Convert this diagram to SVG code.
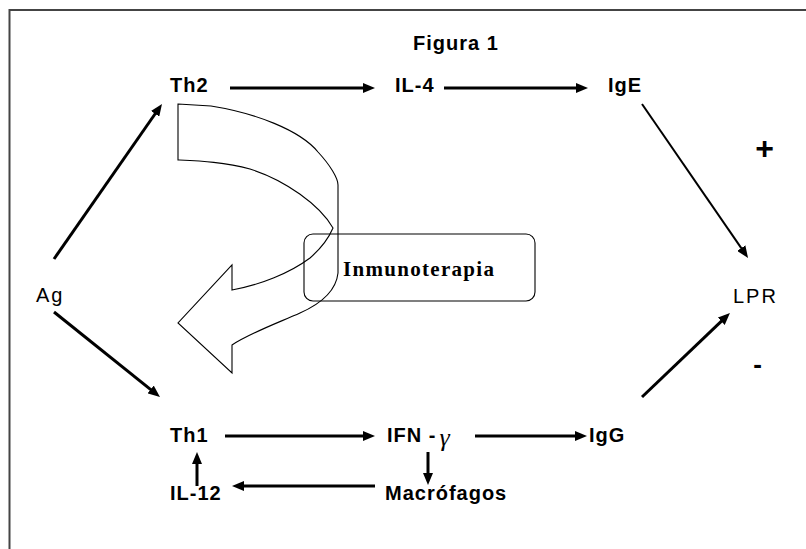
<svg xmlns="http://www.w3.org/2000/svg" width="806" height="549" viewBox="0 0 806 549">
<style>
.lbl{font-family:"Liberation Sans",Arial,sans-serif;font-weight:bold;font-size:20px;letter-spacing:1px;fill:#000}
.reg{font-family:"Liberation Sans",Arial,sans-serif;font-size:20px;letter-spacing:2px;fill:#000}
.imm{font-family:"Liberation Serif","Times New Roman",serif;font-weight:bold;font-size:21px;letter-spacing:1.3px;fill:#000}
.gam{font-family:"Liberation Serif","Times New Roman",serif;font-style:italic;font-weight:normal;font-size:26px;letter-spacing:0}
.big{font-size:32px}
.mid{font-size:26px}
.c{stroke:#000;stroke-width:3;fill:none;marker-end:url(#ah)}
.thin{stroke-width:2}
.outline{fill:none;stroke:#000;stroke-width:1.1}
</style>
<defs>
<marker id="ah" markerUnits="userSpaceOnUse" markerWidth="12" markerHeight="10" viewBox="0 0 12 10" refX="1" refY="5" orient="auto">
<path d="M0,0 L12,5 L0,10 z" fill="#000"/>
</marker>
</defs>
<rect width="806" height="549" fill="#fff"/>
<g id="frame" stroke="#444" stroke-width="2" fill="none">
<path d="M9.5,549 L9.5,10 L806,10"/>
</g>
<g id="title"><text class="lbl" x="413" y="50">Figura 1</text></g>
<g id="connectors">
<line class="c" x1="54" y1="259" x2="155.7" y2="113"/>
<line class="c" x1="230" y1="88" x2="364" y2="88"/>
<line class="c" x1="444" y1="88" x2="577" y2="88"/>
<line class="c thin" x1="642" y1="104" x2="741.8" y2="248.9"/>
<line class="c" x1="54" y1="312" x2="151.4" y2="390.1"/>
<line class="c" x1="225" y1="436" x2="364" y2="436"/>
<line class="c" x1="475" y1="436" x2="576" y2="436"/>
<line class="c" x1="642" y1="397" x2="722" y2="320.6"/>
<line class="c" x1="428" y1="452" x2="428" y2="474"/>
<line class="c" x1="375" y1="486" x2="243" y2="486"/>
<line class="c" x1="197" y1="486" x2="197" y2="463"/>
</g>
<g id="curved-arrow">
<path class="outline" d="M178,104 L211,106 C255,113 300,130 318,152 C330,165 338,178 338,185 L338,273 C336,292 318,305 300,313 C280,322 250,333 232,345 L232,373 L178,323 L232,265 L232,290 C260,285 290,273 310,258 C325,245 330,235 333,228 C320,205 285,180 250,169 C225,162 200,161 178,160 Z"/>
</g>
<g id="inmunoterapia">
<rect class="outline" x="304" y="234" width="231" height="67" rx="9"/>
<text class="imm" x="343" y="276">Inmunoterapia</text>
</g>
<g id="Ag"><text class="reg" x="36" y="302">Ag</text></g>
<g id="Th2"><text class="lbl" x="170" y="92">Th2</text></g>
<g id="IL-4"><text class="lbl" x="395" y="92">IL-4</text></g>
<g id="IgE"><text class="lbl" x="608" y="92">IgE</text></g>
<g id="LPR"><text class="reg" x="733" y="303">LPR</text></g>
<g id="plus"><text class="lbl big" x="765" y="159" text-anchor="middle">+</text></g>
<g id="minus"><text class="lbl mid" x="758" y="373" text-anchor="middle">-</text></g>
<g id="Th1"><text class="lbl" x="170" y="442">Th1</text></g>
<g id="IFN"><text class="lbl" x="387" y="442">IFN -<tspan class="gam" dx="3" dy="4">γ</tspan></text></g>
<g id="IgG"><text class="lbl" x="589" y="442">IgG</text></g>
<g id="IL-12"><text class="lbl" x="170" y="500">IL-12</text></g>
<g id="Macrofagos"><text class="lbl" x="385" y="500">Macrófagos</text></g>
</svg>
